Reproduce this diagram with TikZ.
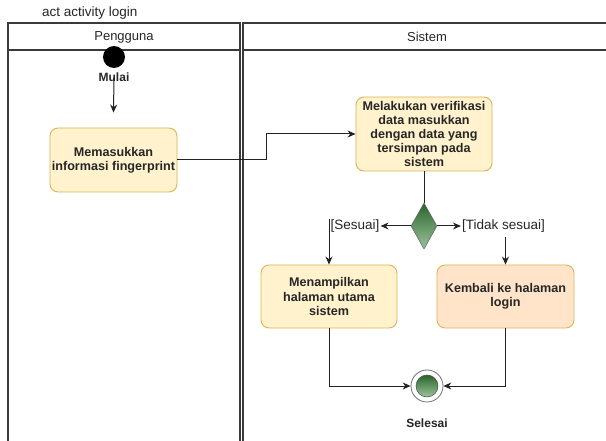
\documentclass[tikz,border=0pt]{standalone}
\usepackage{fontspec}
\setmainfont{Liberation Sans}
\usetikzlibrary{arrows.meta,shapes.geometric}

\definecolor{actfill}{HTML}{FFF2CC}
\definecolor{actedge}{HTML}{D6B656}
\definecolor{warnfill}{HTML}{FFE4CA}
\definecolor{lanecol}{HTML}{3A3A3A}
\definecolor{linecol}{HTML}{222222}
\definecolor{gdark}{HTML}{2A642A}
\definecolor{glight}{HTML}{9CC49C}

\tikzset{
  lane/.style={draw=lanecol, line width=1.3pt},
  lanehead/.style={font=\fontsize{13}{15}\selectfont, inner sep=0pt, text=black!85},
  act/.style={draw=actedge, fill=actfill, line width=0.9pt, rounded corners=8pt,
    align=center, inner sep=0pt, text=black!85,
    font=\bfseries\fontsize{12.6}{14.2}\selectfont},
  guard/.style={font=\fontsize{13.5}{15}\selectfont, inner sep=1pt, text=black!85},
  caption/.style={font=\bfseries\fontsize{12}{14}\selectfont, inner sep=0pt, text=black!85},
  flow/.style={draw=linecol, line width=1pt, -{Stealth[length=8pt,width=7pt]}},
  plain/.style={draw=linecol, line width=1pt},
}

\begin{document}
\begin{tikzpicture}[x=1pt,y=-1pt]
\useasboundingbox (0,0) rectangle (606,441);
\clip (0,0) rectangle (606,441);
\fill[white] (0,0) rectangle (606,441);

% diagram frame label
\node[anchor=west, font=\fontsize{13.5}{15}\selectfont, inner sep=0pt, text=black!85] (title) at (42,13) {act activity login};

% swimlanes
\draw[lane] (8,460) -- (8,23) -- (240,23) -- (240,460);
\draw[lane] (8,50) -- (240,50);
\draw[lane] (243,460) -- (243,23) -- (620,23);
\draw[lane] (243,50) -- (620,50);
\node[lanehead] (user) at (124,37) {Pengguna};
\node[lanehead] (sys) at (427,37) {Sistem};

% start
\node[circle, fill=black, minimum size=22pt, inner sep=0pt] (start) at (114,57) {};
\node[caption] (mulai) at (114,77) {Mulai};

% activities
\node[act, minimum width=127pt, minimum height=64pt] (input) at (113.5,160)
  {Memasukkan\\informasi fingerprint};
\node[act, minimum width=136pt, minimum height=74pt] (verify) at (424,134)
  {Melakukan verifikasi\\data masukkan\\dengan data yang\\tersimpan pada\\sistem};
\node[diamond, draw=black!60, line width=0.6pt, top color=gdark, bottom color=glight,
  minimum width=26pt, minimum height=46pt, inner sep=0pt] (dec) at (424,226) {};
\node[guard] (ok) at (355,226) {[Sesuai]};
\node[guard] (nok) at (503.5,226) {[Tidak sesuai]};
\node[act, minimum width=136pt, minimum height=63pt] (show) at (329,296.5)
  {Menampilkan\\halaman utama\\sistem};
\node[act, fill=warnfill, minimum width=137pt, minimum height=63pt] (fail) at (505.5,296.5)
  {Kembali ke halaman\\login};

% end
\node[circle, draw=black!55, fill=white, line width=0.8pt, minimum size=32pt, inner sep=0pt] (stop) at (427,386) {};
\node[circle, draw=black!70, line width=0.5pt, top color=gdark, bottom color=glight,
  minimum size=22pt, inner sep=0pt] (stopdot) at (stop) {};
\node[caption] (selesai) at (427,423) {Selesai};

% flows
\draw[flow] (mulai.south) ++(0,-4) -- ([yshift=15pt]input.north);
\draw[flow] (input.east) -- ++(89,0) |- (verify.west);
\draw[plain] (verify.south) -- (dec.north);
\draw[flow] (dec.west) -- (ok.east);
\draw[flow] (dec.east) -- (nok.west);
\draw[flow] (show.north |- ok.north) -- (show.north);
\draw[flow] ([yshift=-4pt]fail.north |- nok.south) -- (fail.north);
\draw[flow] (show.south) |- (stop.west);
\draw[flow] (fail.south) |- (stop.east);
\end{tikzpicture}
\end{document}
